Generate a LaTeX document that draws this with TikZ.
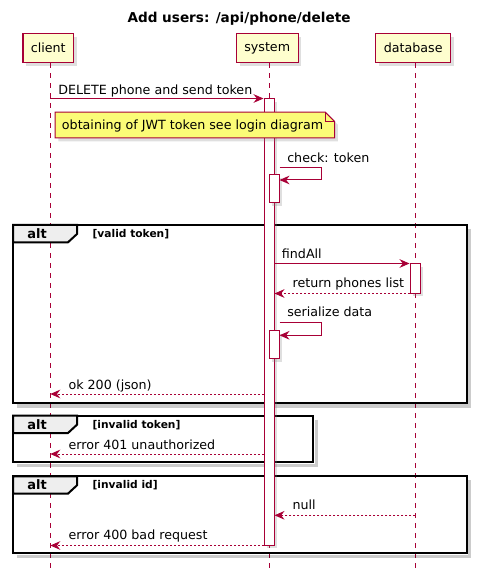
\documentclass[tikz,border=0pt]{standalone}
\usepackage{fontspec}
\setmainfont{DejaVu Sans}
\usetikzlibrary{arrows.meta,shadows,positioning}
\definecolor{umlred}{HTML}{A80036}
\definecolor{partfill}{HTML}{FEFECE}
\definecolor{notefill}{HTML}{FBFB77}
\definecolor{tabfill}{HTML}{EEEEEE}

\begin{document}
\begin{tikzpicture}[x=0.75pt, y=-0.75pt,
	every node/.style={font=\fontsize{9.5}{11}\selectfont},
	shade/.style={drop shadow={shadow xshift=2.5pt, shadow yshift=-2.5pt, opacity=0.25}},
	part/.style={draw=umlred, fill=partfill, line width=0.9pt, minimum height=22pt, inner xsep=6pt, shade},
	life/.style={draw=umlred, line width=0.6pt, dash pattern=on 3.75pt off 3.75pt},
	act/.style={draw=umlred, fill=white, line width=0.75pt, minimum width=7.5pt, inner sep=0pt, shade},
	msg/.style={draw=umlred, line width=0.75pt, -{Stealth[length=7.5pt,width=6.5pt,inset=2.5pt]}},
	reply/.style={msg, dash pattern=on 1.5pt off 1.5pt},
	lbl/.style={anchor=base west, inner sep=0pt},
	notebox/.style={draw=umlred, fill=notefill, line width=0.75pt, shade},
	frame/.style={draw=black, line width=1.5pt},
	tab/.style={draw=black, fill=tabfill, line width=1.5pt},
]
\useasboundingbox (0,0) rectangle (476,580);

\node[font=\bfseries\fontsize{10.2}{12}\selectfont, anchor=base] (title) at (239,22.7) {Add users: /api/phone/delete};

% participants
\node[part] (client) at (48.3,48) {client};
\node[part] (system) at (267.2,48) {system};
\node[part] (database) at (413.2,48) {database};

\coordinate (cl) at (50.3,0);
\coordinate (sy) at (269.3,0);
\coordinate (db) at (415.3,0);

\draw[life] (cl |- client.south) -- (cl |- 0,569);
\draw[life] (sy |- system.south) -- (sy |- 0,569);
\draw[life] (db |- database.south) -- (db |- 0,569);

% alt frames
\foreach \xa/\ya/\xb/\yb/\guard [count=\i] in {13/225/466.7/403/valid token, 13/415.7/313.3/462.3/invalid token, 13/476.3/466.7/553.3/invalid id}
	{
		\draw[black, opacity=0.2, line width=2.5pt] (\xb+3,\ya+4) -- (\xb+3,\yb+3) -- (\xa+4,\yb+3);
		\draw[frame] (\xa,\ya) rectangle (\xb,\yb);
		\draw[tab] (\xa,\ya) -- (77,\ya) -- (77,\ya+9) -- (68,\ya+17.3) -- (\xa,\ya+17.3) -- cycle;
		\node[font=\bfseries\fontsize{9.75}{11}\selectfont, anchor=base] (alt\i) at (37,\ya+13.6) {alt};
		\node[font=\bfseries\fontsize{8}{10}\selectfont, lbl] (guard\i) at (92.3,\ya+12.4) {[\guard]};
	}

% activations
\node[act, minimum height=334.5pt] (a1) at (269,322) {};
\node[act, minimum height=21pt] (a2) at (274,189) {};
\node[act, minimum height=21.75pt] (a3) at (415,278.5) {};
\node[act, minimum height=21pt] (a4) at (274,344.2) {};

% note
\path node[inner sep=0pt, minimum width=209.25pt, minimum height=19pt] (note) at (194.8,125) {};
\filldraw[notebox] (note.north west) -- ([xshift=-7pt]note.north east) -- ([yshift=-7pt]note.north east) -- (note.south east) -- (note.south west) -- cycle;
\draw[umlred, line width=0.75pt] ([xshift=-7pt]note.north east) -- ([xshift=-7pt,yshift=-7pt]note.north east) -- ([yshift=-7pt]note.north east);
\node[lbl] (notetext) at (61.7,129.3) {obtaining of JWT token see login diagram};

% messages
\draw[msg] (cl |- a1.north) -- (a1.north west);
\node[lbl] (m1) at (58,94.5) {DELETE phone and send token};

\draw[msg] (a2.east |- 0,167.7) -| (321.7,180) -- (a2.east |- 0,180);
\node[lbl] (m2) at (287,163) {check: token};

\draw[msg] (a1.east |- a3.north) -- (a3.north west);
\node[lbl] (m3) at (281.7,259) {findAll};

\draw[reply] (a3.south west) -- (a1.east |- a3.south);
\node[lbl] (m4) at (292.3,287.7) {return phones list};

\draw[msg] (a4.east |- 0,322.3) -| (321.7,335.3) -- (a4.east |- 0,335.3);
\node[lbl] (m5) at (287,316.7) {serialize data};

\draw[reply] (a1.west |- 0,394) -- (cl |- 0,394);
\node[lbl] (m6) at (68.3,389.3) {ok 200 (json)};

\draw[reply] (a1.west |- 0,454) -- (cl |- 0,454);
\node[lbl] (m7) at (68.3,449) {error 401 unauthorized};

\draw[reply] (db |- 0,515.3) -- (a1.east |- 0,515.3);
\node[lbl] (m8) at (292.3,509.7) {null};

\draw[reply] (a1.south west) -- (cl |- a1.south);
\node[lbl] (m9) at (68.3,539.3) {error 400 bad request};

\end{tikzpicture}
\end{document}
